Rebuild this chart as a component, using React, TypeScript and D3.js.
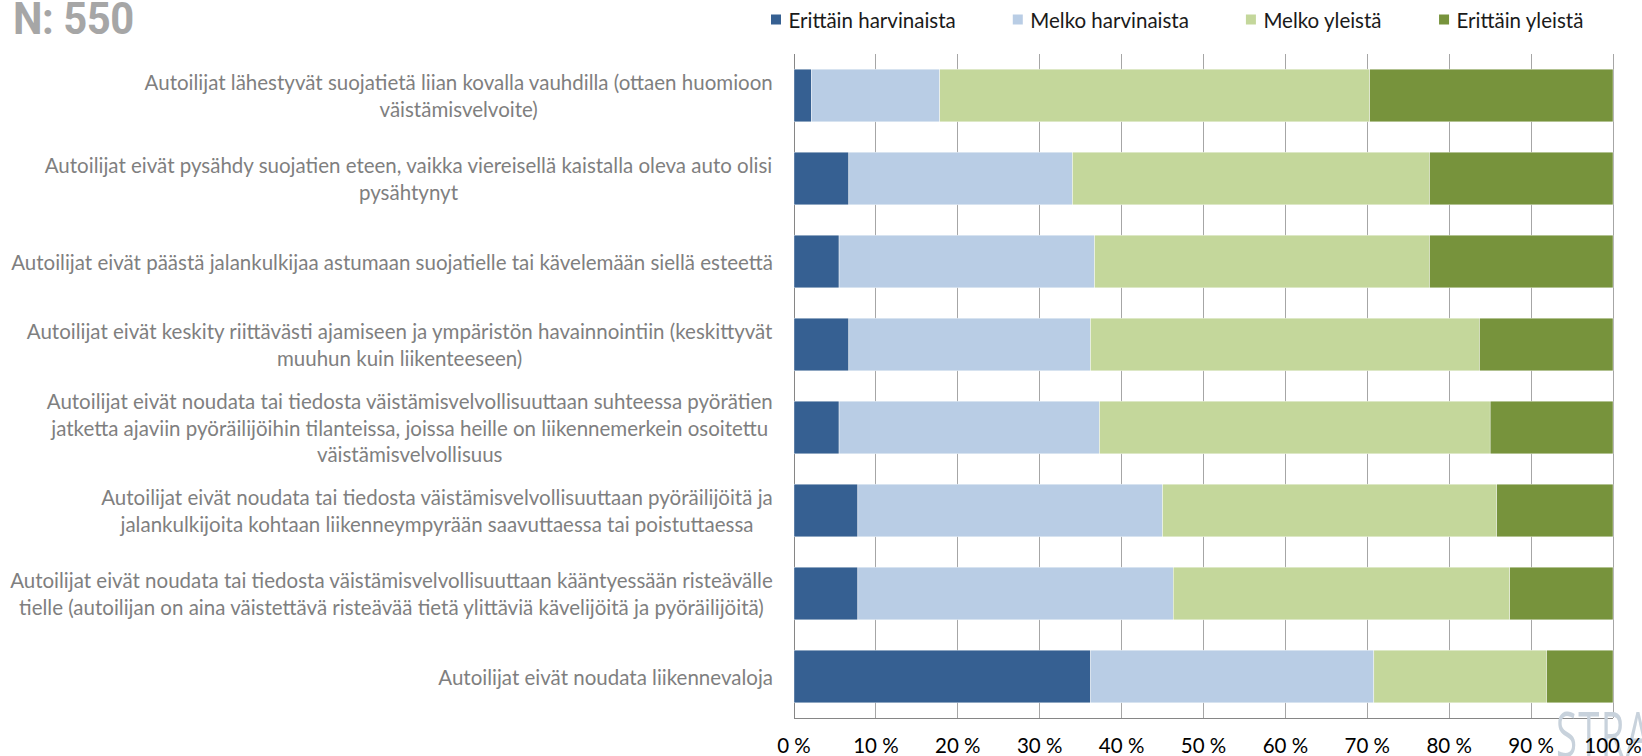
import React from "react";
import * as d3 from "d3";

const W = 1642;
const H = 756;

// ---- data ----
const categories: string[][] = [
  ["Autoilijat lähestyvät suojatietä liian kovalla vauhdilla (ottaen huomioon", "väistämisvelvoite)"],
  ["Autoilijat eivät pysähdy suojatien eteen, vaikka viereisellä kaistalla oleva auto olisi", "pysähtynyt"],
  ["Autoilijat eivät päästä jalankulkijaa astumaan suojatielle tai kävelemään siellä esteettä"],
  ["Autoilijat eivät keskity riittävästi ajamiseen ja ympäristön havainnointiin (keskittyvät", "muuhun kuin liikenteeseen)"],
  [
    "Autoilijat eivät noudata tai tiedosta väistämisvelvollisuuttaan suhteessa pyörätien",
    "jatketta ajaviin pyöräilijöihin tilanteissa, joissa heille on liikennemerkein osoitettu",
    "väistämisvelvollisuus",
  ],
  ["Autoilijat eivät noudata tai tiedosta väistämisvelvollisuuttaan pyöräilijöitä ja", "jalankulkijoita kohtaan liikenneympyrään saavuttaessa tai poistuttaessa"],
  ["Autoilijat eivät noudata tai tiedosta väistämisvelvollisuuttaan kääntyessään risteävälle", "tielle (autoilijan on aina väistettävä risteävää tietä ylittäviä kävelijöitä ja pyöräilijöitä)"],
  ["Autoilijat eivät noudata liikennevaloja"],
];

const seriesNames = ["Erittäin harvinaista", "Melko harvinaista", "Melko yleistä", "Erittäin yleistä"];
const erittainHarvinaista = [2.1, 6.7, 5.5, 6.7, 5.5, 7.8, 7.8, 36.2];
const melkoHarvinaista = [15.7, 27.3, 31.2, 29.5, 31.8, 37.2, 38.5, 34.6];
const melkoYleista = [52.5, 43.6, 40.9, 47.5, 47.7, 40.8, 41.1, 21.1];
const erittainYleista = [29.7, 22.4, 22.4, 16.3, 15.0, 14.2, 12.6, 8.1];
const xTicks = [0, 10, 20, 30, 40, 50, 60, 70, 80, 90, 100];
const sampleLabel = "N: 550";
const watermark = "STRA";

const colors = ["#366092", "#b9cde5", "#c4d79b", "#77933c"];

// ---- layout ----
const plotLeft = 794;
const plotRight = 1613;
const plotTop = 54;
const plotBottom = 718;
const labelFont = "Lato, sans-serif";
const labelSize = 20.5;
const legendSize = 20.5;
const tickSize = 20.5;
const lineH = 26.5;
const legendGap = 57;

let ctx: CanvasRenderingContext2D | null = null;
function measure(text: string, size: number, weight = "normal") {
  if (!ctx) ctx = document.createElement("canvas").getContext("2d");
  if (!ctx) return text.length * size * 0.45;
  ctx.font = `${weight} ${size}px Lato`;
  return ctx.measureText(text).width;
}

export default function App() {
  const rows = categories.map((c, i) => ({
    idx: i,
    [seriesNames[0]]: erittainHarvinaista[i],
    [seriesNames[1]]: melkoHarvinaista[i],
    [seriesNames[2]]: melkoYleista[i],
    [seriesNames[3]]: erittainYleista[i],
  }));
  const stacked = d3.stack<any>().keys(seriesNames)(rows);

  const x = d3.scaleLinear().domain([0, 100]).range([plotLeft, plotRight]);
  const y = d3
    .scaleBand<number>()
    .domain(categories.map((_, i) => i))
    .range([plotTop, plotBottom])
    .paddingInner(0.365)
    .paddingOuter(0.1825);

  // legend layout
  const legendItems: { x: number; name: string; color: string }[] = [];
  let lx = 771;
  seriesNames.forEach((n, i) => {
    legendItems.push({ x: lx, name: n, color: colors[i] });
    lx += 10 + 7.5 + measure(n, legendSize) + legendGap;
  });

  return (
    <svg
      width={W}
      height={H}
      style={{ position: "absolute", left: 0, top: 0, display: "block", background: "#fff" }}
      fontFamily={labelFont}
    >
      <rect x={0} y={0} width={W} height={H} fill="#ffffff" />
      {/* N label */}
      <text
        transform="translate(13,34) scale(0.95,1)"
        fontFamily="Roboto, sans-serif"
        fontWeight="bold"
        fontSize={44}
        fill="#a6a6a6"
        letterSpacing={-0.5}
      >
        {sampleLabel}
      </text>

      {/* legend */}
      {legendItems.map((d) => (
        <g key={d.name}>
          <rect x={d.x} y={14.5} width={10} height={10} fill={d.color} />
          <text x={d.x + 17.5} y={19.5} dominantBaseline="central" fontSize={legendSize} fill="#1a1a1a">
            {d.name}
          </text>
        </g>
      ))}

      {/* gridlines */}
      {xTicks.map((t) => (
        <line
          key={t}
          x1={x(t)}
          x2={x(t)}
          y1={plotTop}
          y2={plotBottom}
          stroke={t === 0 ? "#868686" : "#a6a6a6"}
          strokeWidth={1}
          shapeRendering="crispEdges"
        />
      ))}
      <line x1={plotLeft} x2={plotRight} y1={plotBottom} y2={plotBottom} stroke="#868686" shapeRendering="crispEdges" />

      {/* bars */}
      {stacked.map((s, si) => (
        <g key={s.key} fill={colors[si]}>
          {s.map((d, i) => (
            <rect
              key={i}
              x={x(d[0])}
              y={y(i)}
              width={Math.max(0, x(d[1]) - x(d[0]))}
              height={y.bandwidth()}
              stroke="#ffffff"
              strokeWidth={0.4}
            />
          ))}
        </g>
      ))}

      {/* category labels */}
      {categories.map((lines, i) => {
        const maxW = Math.max(...lines.map((l) => measure(l, labelSize)));
        const right = 773;
        const cx = right - maxW / 2;
        const cy = (y(i) as number) + y.bandwidth() / 2;
        return (
          <g key={i}>
            {lines.map((l, li) => (
              <text
                key={li}
                x={cx}
                y={cy + (li - (lines.length - 1) / 2) * lineH}
                textAnchor="middle"
                dominantBaseline="central"
                fontSize={labelSize}
                fill="#7f7f7f"
              >
                {l}
              </text>
            ))}
          </g>
        );
      })}

      {/* watermark */}
      <text
        transform="translate(1556,757) scale(0.62,1)"
        fontFamily="'Open Sans', sans-serif"
        fontSize={62}
        letterSpacing={2}
        fill="#c8d2dc"
      >
        {watermark}
      </text>

      {/* x tick labels */}
      {xTicks.map((t) => (
        <text key={t} x={x(t)} y={753} textAnchor="middle" fontSize={tickSize} fill="#000000">
          {`${t} %`}
        </text>
      ))}
    </svg>
  );
}
